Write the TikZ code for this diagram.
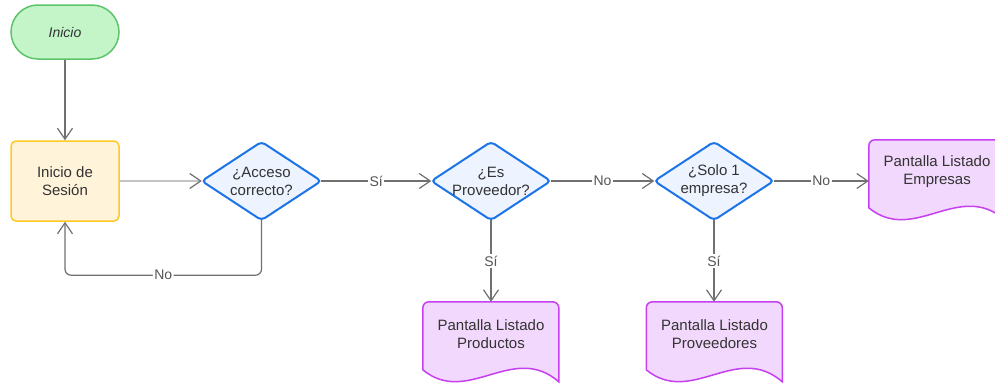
\documentclass[tikz,border=0pt]{standalone}
\usepackage{fontspec}
\setmainfont{Liberation Sans}
\usetikzlibrary{arrows.meta,backgrounds}

\definecolor{txt}{HTML}{333333}
\definecolor{lblgray}{HTML}{555555}
\definecolor{flowgray}{HTML}{707070}
\definecolor{flowlight}{HTML}{C4C4C4}
\definecolor{startfill}{HTML}{C3F5C8}
\definecolor{startline}{HTML}{5EC46A}
\definecolor{procfill}{HTML}{FFF3DA}
\definecolor{procline}{HTML}{FFC928}
\definecolor{decfill}{HTML}{EDF4FF}
\definecolor{decline}{HTML}{1C74E6}
\definecolor{docfill}{HTML}{F2D8FC}
\definecolor{docline}{HTML}{C63FF0}

% diamond outline behind a decision node
\newcommand\decisionshape[1]{%
  \begin{scope}[on background layer]
    \draw[fill=decfill, draw=decline, line width=2pt, rounded corners=4pt]
      (#1.north) -- (#1.east) -- (#1.south) -- (#1.west) -- cycle;
  \end{scope}}

% document outline (wavy bottom) behind a screen node
\newcommand\documentshape[1]{%
  \begin{scope}[on background layer, shift={(#1.north west)}]
    \draw[fill=docfill, draw=docline, line width=1.5pt]
      (0,68) -- (0,6) .. controls (0,2.7) and (2.7,0) .. (6,0)
      -- (130,0) .. controls (133.3,0) and (136,2.7) .. (136,6)
      -- (136,80) .. controls (90,40) and (45,105) .. cycle;
  \end{scope}}

\begin{document}
\begin{tikzpicture}[x=1pt, y=-1pt,
  base/.style={align=center, inner sep=0pt, text=txt,
    font=\fontsize{15}{18}\selectfont},
  startbox/.style={base, draw=startline, fill=startfill, line width=1.5pt,
    minimum width=108pt, minimum height=54pt, rounded corners=27pt,
    font=\fontsize{14}{17}\selectfont\itshape},
  procbox/.style={base, draw=procline, fill=procfill, line width=1.5pt,
    minimum width=108pt, minimum height=80pt, rounded corners=5pt},
  decbox/.style={base, minimum width=119pt, minimum height=78pt},
  docbox/.style={base, minimum width=136pt, minimum height=64pt},
  tip/.style={-{Straight Barb[length=11pt,width=15pt,line width=1.2pt]}},
  flow/.style={draw=flowgray, line width=1.2pt, tip},
  lbl/.style={fill=white, inner sep=1.5pt, text=lblgray,
    font=\fontsize{14}{17}\selectfont}
]
\useasboundingbox (0,0) rectangle (995,383);
\clip (0,0) rectangle (995,383);

% nodes
\node[startbox] (inicio) at (65,32) {Inicio};
\node[procbox]  (sesion) at (65,181) {Inicio de\\Sesión};
\node[decbox]   (acceso) at (261.5,181) {¿Acceso\\correcto?};
\node[decbox]   (prov)   at (491,181) {¿Es\\Proveedor?};
\node[decbox]   (solo)   at (714,181) {¿Solo 1\\empresa?};
\node[docbox]   (empresas)    at (937,172) {Pantalla Listado\\Empresas};
\node[docbox]   (productos)   at (491,334) {Pantalla Listado\\Productos};
\node[docbox]   (proveedores) at (714.5,334) {Pantalla Listado\\Proveedores};

\decisionshape{acceso}
\decisionshape{prov}
\decisionshape{solo}
\documentshape{empresas}
\documentshape{productos}
\documentshape{proveedores}

% connectors
\draw[flow] (inicio) -- (sesion);
\draw[draw=flowlight, line width=1.2pt,
  -{Straight Barb[length=11pt,width=15pt,line width=1.2pt,color=flowgray]}]
  (sesion.east) -- (acceso.west);
\draw[flow, rounded corners=6pt] (acceso.south) -- ++(0,55)
  -| node[lbl, pos=0.25] {No} (sesion.south);
\draw[flow] (acceso.east) -- node[lbl] {Sí} (prov.west);
\draw[flow] (prov.east) -- node[lbl] {No} (solo.west);
\draw[flow] (solo.east) -- node[lbl] {No} (empresas.west |- solo.east);
\draw[flow] (prov.south) -- node[lbl] {Sí} (productos.north);
\draw[flow] (solo.south) -- node[lbl] {Sí} (solo.south |- proveedores.north);
\end{tikzpicture}
\end{document}
